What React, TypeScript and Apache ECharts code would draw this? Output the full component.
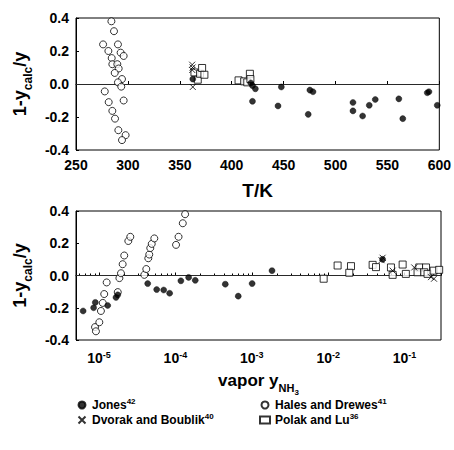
import React, { useEffect, useRef } from "react";
import * as echarts from "echarts";

// ---------- data: top panel (temperature, K) ----------
const jonesT = [362.5, 418.4, 420.0, 422.8, 420.0, 447.8, 444.6, 475.3, 478.3, 473.7, 516.8, 516.8, 526.1, 532.5, 538.3, 561.0, 564.8, 588.4, 590.0, 598.0];
const jonesTDev = [0.03, 0.006, -0.01, -0.029, -0.105, -0.018, -0.133, -0.037, -0.047, -0.184, -0.112, -0.163, -0.194, -0.129, -0.094, -0.09, -0.21, -0.053, -0.047, -0.129];

const halesT = [284.1, 286.6, 276.1, 290.4, 281.2, 293.0, 295.9, 284.4, 285.0, 289.8, 291.1, 287.3, 294.3, 290.4, 293.6, 277.7, 295.9, 281.5, 285.0, 287.6, 290.8, 297.8, 294.3];
const halesTDev = [0.38, 0.32, 0.24, 0.24, 0.2, 0.19, 0.17, 0.157, 0.12, 0.12, 0.094, 0.067, 0.03, 0.01, -0.016, -0.045, -0.1, -0.11, -0.163, -0.21, -0.28, -0.31, -0.34];

const dvorakT = [361.9, 362.3, 362.0, 362.5];
const dvorakTDev = [0.117, 0.1, 0.085, -0.018];

const polakT = [364.1, 367.3, 369.5, 371.5, 373.7, 406.6, 412.0, 415.0, 417.5, 418.0];
const polakTDev = [0.07, 0.026, 0.062, 0.097, 0.056, 0.022, 0.016, 0.01, 0.062, 0.03];

// ---------- data: bottom panel (vapor mole fraction of NH3) ----------
const jonesY = [6.2e-6, 8.5e-6, 8.95e-6, 1.3e-5, 1.67e-5, 1.76e-5, 4.34e-5, 5.69e-5, 7.03e-5, 8.41e-5, 1.18e-4, 1.49e-4, 1.82e-4, 4.5e-4, 6.65e-4, 1.01e-3, 1.84e-3, 5.16e-2];
const jonesYDev = [-0.22, -0.2, -0.167, -0.186, -0.136, -0.12, -0.05, -0.087, -0.09, -0.11, -0.033, -0.012, -0.03, -0.054, -0.128, -0.05, 0.03, 0.1];

const halesY = [8.87e-6, 9.12e-6, 1.01e-5, 1.06e-5, 1.12e-5, 1.17e-5, 1.26e-5, 1.76e-5, 1.85e-5, 1.94e-5, 2.04e-5, 2.14e-5, 2.42e-5, 2.57e-5, 3.92e-5, 4.16e-5, 4.42e-5, 4.55e-5, 4.69e-5, 4.9e-5, 5.3e-5, 1.02e-4, 1.1e-4, 1.25e-4, 1.34e-4];
const halesYDev = [-0.32, -0.346, -0.29, -0.22, -0.17, -0.115, -0.043, -0.103, -0.016, 0.014, 0.07, 0.124, 0.214, 0.24, 0.004, 0.04, 0.107, 0.13, 0.17, 0.196, 0.23, 0.19, 0.24, 0.324, 0.38];

const dvorakY = [5.16e-2, 5.0e-2, 6.98e-2, 0.134, 0.222, 0.243];
const dvorakYDev = [0.11, 0.095, 0.03, 0.05, -0.01, -0.02];

const polakY = [8.73e-3, 1.33e-2, 1.99e-2, 1.89e-2, 3.82e-2, 4.23e-2, 6.64e-2, 6.98e-2, 9.44e-2, 0.104, 0.156, 0.148, 0.191, 0.181, 0.2, 0.24, 0.284];
const polakYDev = [-0.02, 0.062, 0.058, 0.017, 0.066, 0.052, 0.05, 0.004, 0.068, 0.01, 0.05, 0.02, 0.05, 0.02, 0.01, 0.03, 0.035];

// ---------- axis / legend texts ----------
const seriesNames = ["Jones", "Hales and Drewes", "Dvorak and Boublik", "Polak and Lu"];
const refNumbers = ["42", "41", "40", "36"];
const devTicks = [-0.4, -0.2, 0.0, 0.2, 0.4];
const tempTicks = [250, 300, 350, 400, 450, 500, 550, 600];

const FONT = "'Liberation Sans', Arial, Helvetica, sans-serif";
const BLACK = "#000";

const zip = (xs: number[], ys: number[]) => xs.map((x, i) => [x, ys[i]]);

const crossPath = "path://M0,0L10,10M10,0L0,10";

const styles: Record<string, any> = {
  [seriesNames[0]]: { symbol: "circle", symbolSize: 6, itemStyle: { color: BLACK, borderColor: BLACK, borderWidth: 0.5 } },
  [seriesNames[1]]: { symbol: "circle", symbolSize: 7, itemStyle: { color: "#fff", borderColor: BLACK, borderWidth: 1 } },
  [seriesNames[2]]: { symbol: crossPath, symbolSize: 6, itemStyle: { color: "none", borderColor: BLACK, borderWidth: 1 } },
  [seriesNames[3]]: { symbol: "rect", symbolSize: 7, itemStyle: { color: "#fff", borderColor: BLACK, borderWidth: 1 } },
};

const labelFont = { color: BLACK, fontFamily: FONT, fontWeight: "bold" as const };

export default function App() {
  const ref = useRef<HTMLDivElement>(null);
  useEffect(() => {
    if (!ref.current) return;
    const chart = echarts.init(ref.current, undefined, { renderer: "svg" });

    const mk = (name: string, data: number[][], idx: number, z: number, withZero = false) => ({
      type: "scatter",
      name,
      xAxisIndex: idx,
      yAxisIndex: idx,
      data,
      z,
      ...styles[name],
      ...(withZero
        ? {
            markLine: {
              silent: true,
              symbol: ["none", "none"],
              label: { show: false },
              lineStyle: { color: "#333", width: 0.8, type: "solid" },
              data: [{ yAxis: 0 }],
              z: 1,
            },
          }
        : {}),
    });

    const yAxisCommon = (gridIndex: number) => ({
      type: "value",
      gridIndex,
      min: devTicks[0],
      max: devTicks[devTicks.length - 1],
      interval: 0.2,
      axisLine: { show: true, lineStyle: { color: BLACK, width: 1 } },
      axisTick: { show: true, inside: true, length: 3, lineStyle: { color: BLACK } },
      splitLine: { show: false },
      axisLabel: {
        ...labelFont,
        fontSize: 14,
        margin: 7,
        formatter: (v: number) => (Math.abs(v) < 1e-9 ? "0.0" : v.toFixed(1)),
      },
      name: "{b|1-y}{s|calc}{b|/y}",
      nameLocation: "middle",
      nameRotate: 90,
      nameGap: 38,
      nameTextStyle: {
        rich: {
          b: { ...labelFont, fontSize: 18, lineHeight: 18, padding: [0, 0, 5, 0], verticalAlign: "bottom" },
          s: { ...labelFont, fontSize: 12, lineHeight: 12, verticalAlign: "bottom" },
        },
      },
    });

    const legendText = {
      ...labelFont,
      rich: {
        b: { ...labelFont, fontSize: 12, lineHeight: 12, verticalAlign: "bottom" },
        s: { ...labelFont, fontSize: 8, lineHeight: 8, padding: [0, 0, 6, 0], verticalAlign: "bottom" },
      },
    };
    const legendFmt = (name: string) => `{b|${name}}{s|${refNumbers[seriesNames.indexOf(name)]}}`;
    const legendCommon = {
      orient: "vertical",
      top: 397,
      height: 40,
      itemGap: 1,
      itemWidth: 10,
      itemHeight: 7,
      padding: 0,
      formatter: legendFmt,
      textStyle: legendText,
      selectedMode: false,
    };

    chart.setOption({
      animation: false,
      backgroundColor: "#fff",
      grid: [
        { left: 76, right: 13, top: 18, height: 132, show: true, borderColor: BLACK, borderWidth: 1 },
        { left: 76, right: 13, top: 211, height: 129, show: true, borderColor: BLACK, borderWidth: 1 },
      ],
      xAxis: [
        {
          type: "value",
          gridIndex: 0,
          min: tempTicks[0],
          max: tempTicks[tempTicks.length - 1],
          interval: 50,
          axisLine: { show: true, lineStyle: { color: BLACK, width: 1 } },
          axisTick: { show: true, inside: true, length: 3, lineStyle: { color: BLACK } },
          splitLine: { show: false },
          axisLabel: { ...labelFont, fontSize: 14, margin: 8 },
          name: "T/K",
          nameLocation: "middle",
          nameGap: 31,
          nameTextStyle: { ...labelFont, fontSize: 19 },
        },
        {
          type: "log",
          gridIndex: 1,
          logBase: 10,
          min: 5e-6,
          max: 0.3,
          axisLine: { show: true, lineStyle: { color: BLACK, width: 1 } },
          axisTick: { show: true, inside: true, length: 3, lineStyle: { color: BLACK } },
          minorTick: { show: true, splitNumber: 8, length: 2, lineStyle: { color: BLACK } },
          splitLine: { show: false },
          axisLabel: {
            ...labelFont,
            margin: 11,
            showMinLabel: false,
            showMaxLabel: false,
            formatter: (v: number) => `{b|10}{s|${Math.round(Math.log10(v))}}`,
            rich: {
              b: { ...labelFont, fontSize: 14, lineHeight: 14, verticalAlign: "bottom" },
              s: { ...labelFont, fontSize: 9, lineHeight: 9, padding: [0, 0, 6, 0], verticalAlign: "bottom" },
            },
          },
          name: "{b|vapor y}{s|NH}{ss|3}",
          nameLocation: "middle",
          nameGap: 39,
          nameTextStyle: {
            rich: {
              b: { ...labelFont, fontSize: 17, lineHeight: 17, padding: [0, 0, 7, 0], verticalAlign: "bottom" },
              s: { ...labelFont, fontSize: 11, lineHeight: 11, padding: [0, 0, 3, 0], verticalAlign: "bottom" },
              ss: { ...labelFont, fontSize: 8, lineHeight: 8, verticalAlign: "bottom" },
            },
          },
        },
      ],
      yAxis: [yAxisCommon(0), yAxisCommon(1)],
      legend: [
        { ...legendCommon, data: [seriesNames[0], seriesNames[2]], left: 76 },
        { ...legendCommon, data: [seriesNames[1], seriesNames[3]], left: 259 },
      ],
      series: [
        mk(seriesNames[1], zip(halesT, halesTDev), 0, 2, true),
        mk(seriesNames[3], zip(polakT, polakTDev), 0, 3),
        mk(seriesNames[2], zip(dvorakT, dvorakTDev), 0, 4),
        mk(seriesNames[0], zip(jonesT, jonesTDev), 0, 5),
        mk(seriesNames[1], zip(halesY, halesYDev), 1, 2, true),
        mk(seriesNames[3], zip(polakY, polakYDev), 1, 3),
        mk(seriesNames[2], zip(dvorakY, dvorakYDev), 1, 4),
        mk(seriesNames[0], zip(jonesY, jonesYDev), 1, 5),
      ],
    });
    return () => chart.dispose();
  }, []);

  return (
    <div
      ref={ref}
      style={{ position: "absolute", left: 0, top: 0, width: 454, height: 450, background: "#fff" }}
    />
  );
}
